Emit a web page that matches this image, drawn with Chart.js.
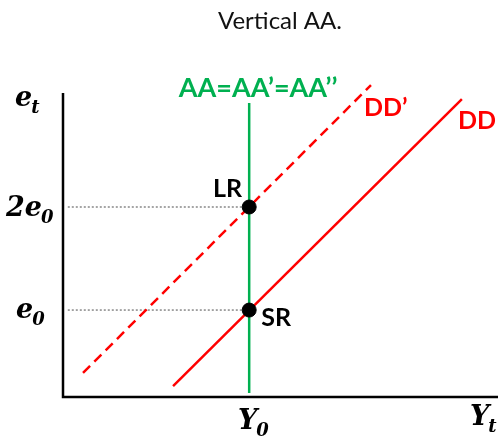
<!DOCTYPE html>
<html>
<head>
<meta charset="utf-8">
<script src="https://cdn.jsdelivr.net/npm/chart.js@4/dist/chart.umd.min.js"></script>
<style>
	html, body { margin: 0; padding: 0; background: #fff; }
	#wrap { width: 500px; height: 436px; }
</style>
</head>
<body>
<div id="wrap"><canvas id="chart-aa" width="500" height="436"></canvas></div>
<script>
// Data (diagram units, 0..10 on both axes)
// ================================================================================
let axis_x = [0, 0, 10];
let axis_y = [10, 0, 0];

let y_zero = 4.28;           // Y0 on the output axis
let e_zero = 2.86;           // e0, short run
let e_zero_double = 6.25;    // 2e0, long run

let aa_x = [y_zero, y_zero];
let aa_y = [0.13, 9.67];

let dd_x = [2.53, 9.17];
let dd_y = [0.36, 9.80];

let dd_prime_x = [0.46, 7.08];
let dd_prime_y = [0.79, 10.26];

let guide_x = [0.11, y_zero];

let point_names = ["LR", "SR"];
let point_x = [y_zero, y_zero];
let point_y = [e_zero_double, e_zero];

let to_xy = (xs, ys) => xs.map((x, i) => ({x: x, y: ys[i]}));

// Labels
// ================================================================================
let math_font = "DejaVu Serif";
let label_font = "Lato";

function draw_math(ctx, base, sub, x, y, size) {
	ctx.font = "italic bold " + size + "px '" + math_font + "'";
	ctx.textAlign = "left";
	ctx.textBaseline = "alphabetic";
	ctx.fillText(base, x, y);
	let w = ctx.measureText(base).width;
	ctx.font = "italic bold " + Math.round(size * 0.68) + "px '" + math_font + "'";
	ctx.fillText(sub, x + w - 1, y + size * 0.26);
}

let label_plugin = {
	id: 'labels',
	afterDatasetsDraw(chart) {
		let ctx = chart.ctx;
		let xs = chart.scales.x, ys = chart.scales.y;
		ctx.save();

		// title
		ctx.fillStyle = "#111";
		ctx.font = "24px '" + label_font + "'";
		ctx.textAlign = "center";
		ctx.textBaseline = "alphabetic";
		ctx.fillText("Vertical AA.", 280, 29);

		// axis labels
		ctx.fillStyle = "#000";
		draw_math(ctx, "e", "t", 15, 106, 27);
		draw_math(ctx, "2e", "0", 6, 216, 27);
		draw_math(ctx, "e", "0", 16, 318, 27);
		draw_math(ctx, "Y", "0", 238, 429, 27);
		draw_math(ctx, "Y", "t", 470, 425, 27);

		// curve labels
		ctx.textBaseline = "alphabetic";
		ctx.font = "bold 27px '" + label_font + "'";
		ctx.fillStyle = "#00b050";
		ctx.textAlign = "center";
		ctx.fillText("AA=AA\u2019=AA\u2019\u2019", xs.getPixelForValue(y_zero) + 9, 97);

		ctx.font = "bold 25px '" + label_font + "'";
		ctx.fillStyle = "#ff0000";
		ctx.textAlign = "left";
		ctx.fillText("DD\u2019", xs.getPixelForValue(dd_prime_x[1]) - 7, ys.getPixelForValue(dd_prime_y[1]) + 31);
		ctx.fillText("DD", xs.getPixelForValue(dd_x[1]) - 4, ys.getPixelForValue(dd_y[1]) + 30);

		// point labels
		ctx.fillStyle = "#000";
		let lr_x = xs.getPixelForValue(point_x[0]), lr_y = ys.getPixelForValue(point_y[0]);
		ctx.textAlign = "right";
		ctx.fillText(point_names[0], lr_x - 7, lr_y - 10);
		let sr_x = xs.getPixelForValue(point_x[1]), sr_y = ys.getPixelForValue(point_y[1]);
		ctx.textAlign = "left";
		ctx.fillText(point_names[1], sr_x + 12, sr_y + 16);

		ctx.restore();
	}
};

// Chart
// ================================================================================
let line_set = (data, color, width, dash, order) => ({
	type: 'line',
	data: data,
	borderColor: color,
	borderWidth: width,
	borderDash: dash,
	pointRadius: 0,
	fill: false,
	tension: 0,
	clip: false,
	order: order
});

new Chart(document.getElementById('chart-aa'), {
	type: 'scatter',
	data: {
		datasets: [
			{
				data: to_xy(point_x, point_y),
				backgroundColor: '#000',
				borderColor: '#000',
				pointRadius: 7,
				pointHoverRadius: 7,
				clip: false,
				order: 0
			},
			line_set(to_xy(aa_x, aa_y), '#00b050', 2.5, [], 1),
			line_set(to_xy(dd_x, dd_y), '#ff0000', 2.5, [], 2),
			line_set(to_xy(dd_prime_x, dd_prime_y), '#ff0000', 2.5, [10, 6], 3),
			line_set(to_xy(guide_x, [e_zero_double, e_zero_double]), '#888888', 1.5, [2, 2], 4),
			line_set(to_xy(guide_x, [e_zero, e_zero]), '#888888', 1.5, [2, 2], 5),
			Object.assign(line_set(to_xy(axis_x, axis_y), '#000', 2.5, [], 6), {borderJoinStyle: 'miter'})
		]
	},
	options: {
		responsive: false,
		animation: false,
		layout: { autoPadding: false, padding: { left: 63, right: 2, top: 93, bottom: 39 } },
		scales: {
			x: { type: 'linear', min: 0, max: 10, display: false },
			y: { type: 'linear', min: 0, max: 10, display: false }
		},
		plugins: {
			legend: { display: false },
			tooltip: { enabled: false }
		}
	},
	plugins: [label_plugin]
});
</script>
</body>
</html>
